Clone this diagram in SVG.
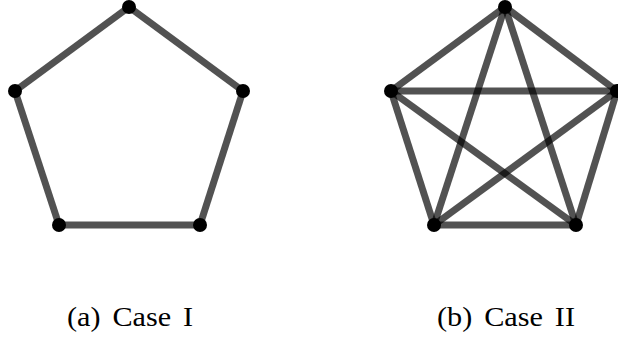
<svg xmlns="http://www.w3.org/2000/svg" width="618" height="339" viewBox="0 0 618 339">
<style>
.e{stroke:#000;stroke-opacity:0.68;stroke-width:7;fill:none;stroke-linecap:butt}
.v{fill:#000}
.t{font-family:"Liberation Serif",serif;font-size:28px;fill:#000;word-spacing:4px}
</style>
<rect width="618" height="339" fill="#fff"/>
<g id="connectors">
<line class="e" x1="129" y1="7" x2="15" y2="91"/>
<line class="e" x1="129" y1="7" x2="243" y2="91"/>
<line class="e" x1="15" y1="91" x2="59" y2="225"/>
<line class="e" x1="243" y1="91" x2="200" y2="225"/>
<line class="e" x1="59" y1="225" x2="200" y2="225"/>
<line class="e" x1="505" y1="7" x2="391" y2="91"/>
<line class="e" x1="505" y1="7" x2="617" y2="91"/>
<line class="e" x1="505" y1="7" x2="434" y2="225"/>
<line class="e" x1="505" y1="7" x2="576" y2="225"/>
<line class="e" x1="391" y1="91" x2="617" y2="91"/>
<line class="e" x1="391" y1="91" x2="434" y2="225"/>
<line class="e" x1="391" y1="91" x2="576" y2="225"/>
<line class="e" x1="617" y1="91" x2="434" y2="225"/>
<line class="e" x1="617" y1="91" x2="576" y2="225"/>
<line class="e" x1="434" y1="225" x2="576" y2="225"/>
</g>
<g id="a1"><circle class="v" cx="129" cy="7" r="7"/></g>
<g id="a2"><circle class="v" cx="15" cy="91" r="7"/></g>
<g id="a3"><circle class="v" cx="243" cy="91" r="7"/></g>
<g id="a4"><circle class="v" cx="59" cy="225" r="7"/></g>
<g id="a5"><circle class="v" cx="200" cy="225" r="7"/></g>
<g id="b1"><circle class="v" cx="505" cy="7" r="7"/></g>
<g id="b2"><circle class="v" cx="391" cy="91" r="7"/></g>
<g id="b3"><circle class="v" cx="617" cy="91" r="7"/></g>
<g id="b4"><circle class="v" cx="434" cy="225" r="7"/></g>
<g id="b5"><circle class="v" cx="576" cy="225" r="7"/></g>
<g id="captions">
<text class="t" x="67" y="326" textLength="126" lengthAdjust="spacingAndGlyphs">(a) Case I</text>
<text class="t" x="437" y="326" textLength="138" lengthAdjust="spacingAndGlyphs">(b) Case II</text>
</g>
</svg>
